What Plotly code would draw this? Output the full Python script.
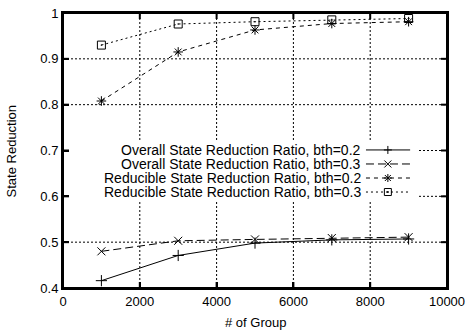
import plotly.graph_objects as go

groups = [1000, 3000, 5000, 7000, 9000]
overall_02 = [0.416, 0.471, 0.498, 0.505, 0.507]
overall_03 = [0.480, 0.503, 0.506, 0.509, 0.511]
reducible_02 = [0.808, 0.915, 0.963, 0.977, 0.981]
reducible_03 = [0.930, 0.976, 0.981, 0.985, 0.988]

series_names = [
    "Overall State Reduction Ratio, bth=0.2",
    "Overall State Reduction Ratio, bth=0.3",
    "Reducible State Reduction Ratio, bth=0.2",
    "Reducible State Reduction Ratio, bth=0.3",
]
series_values = [overall_02, overall_03, reducible_02, reducible_03]
styles = [
    dict(dash="solid", symbol="cross-thin-open",
         glyph="M-4,0H4M0,-4V4"),
    dict(dash="8px,4px", symbol="x-thin-open",
         glyph="M-3.5,-3.5L3.5,3.5M-3.5,3.5L3.5,-3.5"),
    dict(dash="4px,4px", symbol="asterisk-open",
         glyph="M-4,0H4M0,-4V4M-3,-3L3,3M-3,3L3,-3"),
    dict(dash="2px,3px", symbol="square-open-dot",
         glyph="M-3.5,-3.5H3.5V3.5H-3.5ZM-0.5,-0.5H0.5V0.5H-0.5Z"),
]

x_ticks = [0, 2000, 4000, 6000, 8000, 10000]
y_ticks = [0.4, 0.5, 0.6, 0.7, 0.8, 0.9, 1.0]
y_tick_text = ["0.4", "0.5", "0.6", "0.7", "0.8", "0.9", "1"]
x_title = "# of Group"
y_title = "State Reduction"

FONT = "Liberation Sans, Arial, Helvetica, sans-serif"
GRID = dict(color="black", width=1, dash="2px,2px")

fig = go.Figure()
for name, vals, st in zip(series_names, series_values, styles):
    fig.add_trace(go.Scatter(
        x=groups, y=vals, mode="lines+markers", name=name, showlegend=False,
        line=dict(color="black", width=1, dash=st["dash"]),
        marker=dict(symbol=st["symbol"], size=8, color="black",
                    line=dict(color="black", width=1)),
    ))

# dotted grid (drawn as shapes so the key can cover it)
for xv in x_ticks[1:-1]:
    fig.add_shape(type="line", xref="x", yref="paper", x0=xv, x1=xv,
                  y0=0, y1=1, line=GRID, layer="below")
for yv in y_ticks[1:-1]:
    fig.add_shape(type="line", xref="paper", yref="y", x0=0, x1=1,
                  y0=yv, y1=yv, line=GRID, layer="below")

# opaque key background
fig.add_shape(type="rect", xref="paper", yref="paper",
              x0=0.004, x1=0.924, y0=0.32, y1=0.535,
              fillcolor="white", line=dict(width=0), layer="below")

# frame and mirrored inside ticks
fig.add_shape(type="rect", xref="paper", yref="paper", x0=0, x1=1, y0=0, y1=1,
              line=dict(color="black", width=2), layer="above")
for xv in x_ticks[1:-1]:
    for anchor, (a, b) in ((0, (0, 6)), (1, (0, -6))):
        fig.add_shape(type="line", xref="x", yref="paper", x0=xv, x1=xv,
                      ysizemode="pixel", yanchor=anchor, y0=a, y1=b,
                      line=dict(color="black", width=2), layer="above")
for yv in y_ticks[1:-1]:
    for anchor, (a, b) in ((0, (0, 6)), (1, (0, -6))):
        fig.add_shape(type="line", xref="paper", yref="y", y0=yv, y1=yv,
                      xsizemode="pixel", xanchor=anchor, x0=a, x1=b,
                      line=dict(color="black", width=2), layer="above")

# custom gnuplot-style key: text right-aligned, sample on the right
row_y = [0.502, 0.451, 0.400, 0.349]
for name, st, ry in zip(series_names, styles, row_y):
    fig.add_shape(type="line", xref="paper", yref="paper",
                  x0=0.789, x1=0.904, y0=ry, y1=ry,
                  line=dict(color="black", width=1, dash=st["dash"]))
    fig.add_shape(type="path", xref="paper", yref="paper",
                  xsizemode="pixel", ysizemode="pixel",
                  xanchor=0.846, yanchor=ry, path=st["glyph"],
                  fillcolor="rgba(0,0,0,0)",
                  line=dict(color="black", width=1))
    fig.add_annotation(x=0.779, y=ry, xref="paper", yref="paper",
                       text=name, showarrow=False, xanchor="right",
                       yanchor="middle", borderpad=0,
                       font=dict(size=14, color="black"))

# axis titles
fig.add_annotation(x=0.5, y=-0.127, xref="paper", yref="paper", text=x_title,
                   showarrow=False, xanchor="center", yanchor="middle",
                   font=dict(size=13, color="black"))
fig.add_annotation(x=-0.133, y=0.5, xref="paper", yref="paper", text=y_title,
                   showarrow=False, xanchor="center", yanchor="middle",
                   textangle=-90, font=dict(size=13, color="black"))

axis_common = dict(
    showline=True, linecolor="black", linewidth=2, mirror=True,
    ticks="inside", ticklen=6, tickwidth=2, tickcolor="black",
    showgrid=False, zeroline=False, automargin=False,
    ticklabeloverflow="allow",
    tickfont=dict(size=13, color="black"),
)

fig.update_layout(
    width=465, height=331,
    margin=dict(l=63, r=18, t=13, b=43),
    paper_bgcolor="white", plot_bgcolor="rgba(0,0,0,0)",
    font=dict(family=FONT, size=13, color="black"),
    xaxis=dict(range=[0, 10000], tickvals=x_ticks,
               ticktext=[str(v) for v in x_ticks], **axis_common),
    yaxis=dict(range=[0.4, 1.0], tickvals=y_ticks, ticktext=y_tick_text,
               **axis_common),
)

fig.write_html(
    "out.html",
    config={"displayModeBar": False},
    post_script="document.body.style.margin='0';"
                "document.body.style.overflow='hidden';",
)
